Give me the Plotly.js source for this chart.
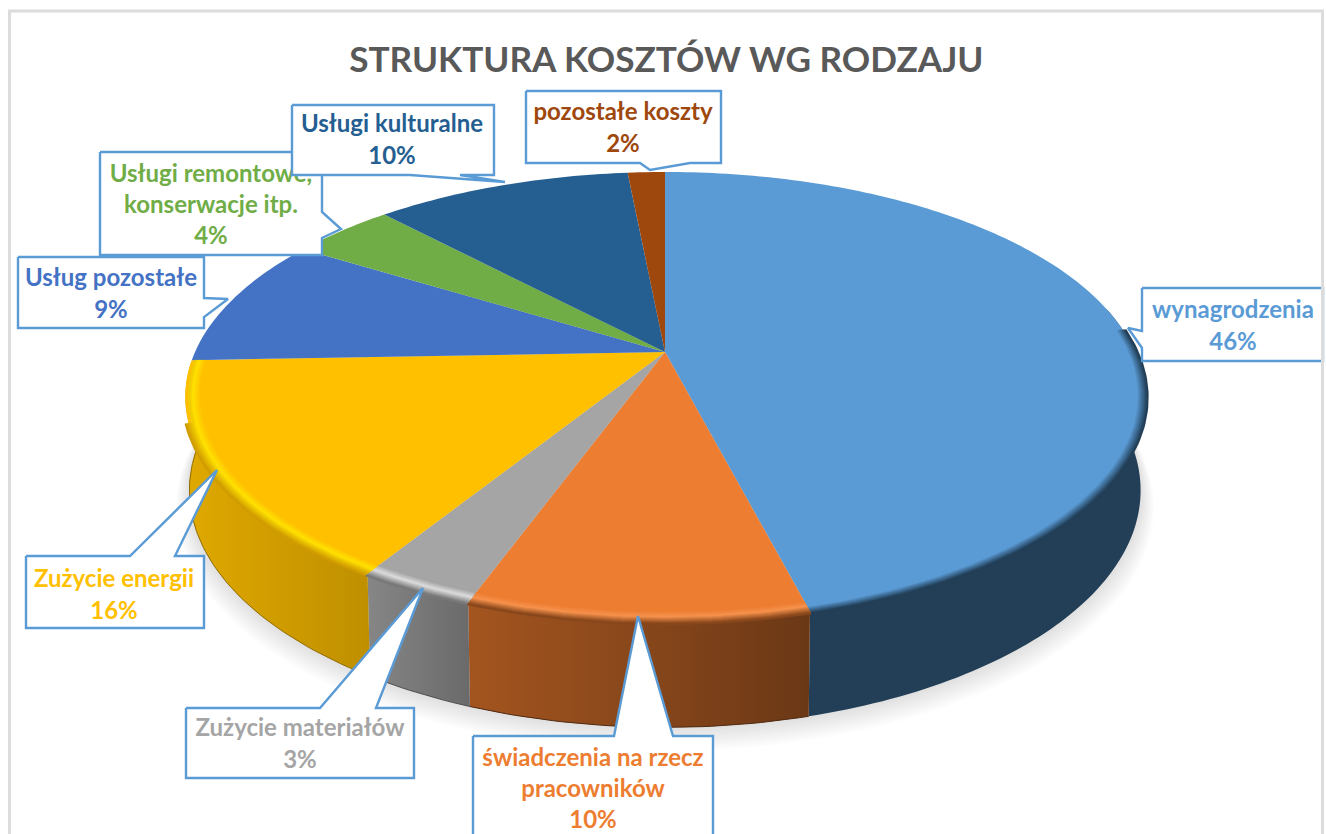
<!DOCTYPE html>
<html>
<head>
<meta charset="utf-8">
<script src="https://cdn.plot.ly/plotly-3.0.1.min.js"></script>
<style>html,body{margin:0;padding:0;background:#fff}</style>
</head>
<body>
<div id="chart" style="width:1326px;height:834px"></div>
<script>
// ---- data ----
const chartTitle = 'STRUKTURA KOSZTÓW WG RODZAJU';
const categories = ['wynagrodzenia', 'świadczenia na rzecz<br>pracowników', 'Zużycie materiałów',
  'Zużycie energii', 'Usług pozostałe', 'Usługi remontowe,<br>konserwacje itp.', 'Usługi kulturalne', 'pozostałe koszty'];
const shares = [46.0, 9.52, 3.28, 15.6, 9.4, 4.2, 10.48, 1.52];
const topColors = ['#5b9bd5', '#ed7d31', '#a5a5a5', '#ffc000', '#4472c4', '#70ad47', '#255e91', '#9e480e'];
const labelColors = ['#5b9bd5', '#ed7d31', '#a5a5a5', '#ffc000', '#4472c4', '#70ad47', '#255e91', '#9e480e'];

// ---- styling of the 3-D look (only slices with a visible wall) ----
const wallLeft  = {0:'#223f57', 1:'#a4551f', 2:'#868686', 3:'#e0a900'};
const wallRight = {0:'#223f57', 1:'#6b3816', 2:'#6a6a6a', 3:'#bf8f00'};
const rimHigh   = {0:'#5b9bd5', 1:'#f6924d', 2:'#dcdcdc', 3:'#ffe100'};
const wallStart = {0:78};   // wall of the first slice is hidden behind the top before this angle
const rimStart  = {0:84};
const darkRimEnd = {3:252}; // the yellow slice keeps a bright edge where it has no wall below it

// ---- projection: a tilted disc seen in perspective, in picture pixels ----
const tilt = 0.2, cx = 665;
const topDisc = {y0:352, ax:470, ay:216};
const baseDisc = {y0:443, ax:466, ay:227.5};
function project(deg, r, d, extra) {
  const t = deg * Math.PI / 180, u = r * Math.sin(t), v = r * Math.cos(t), w = 1 + tilt * v;
  const e = extra || {dx:0, dy:0, shift:0};
  return [cx + (d.ax + e.dx) * u / w, d.y0 + e.shift - (d.ay + e.dy) * v / w];
}
function arc(a, b, r, d, extra) {
  const n = Math.max(2, Math.ceil(Math.abs(b - a))), xs = [], ys = [];
  for (let i = 0; i <= n; i++) {
    const p = project(a + (b - a) * i / n, r, d, extra);
    xs.push(p[0]); ys.push(p[1]);
  }
  return [xs, ys];
}
function mix(c1, c2, f) {
  const h = c => [1, 3, 5].map(i => parseInt(c.substr(i, 2), 16));
  const a = h(c1), b = h(c2);
  return '#' + a.map((x, i) => Math.round(x + (b[i] - x) * f).toString(16).padStart(2, '0')).join('');
}

const total = shares.reduce((s, x) => s + x, 0);
const edges = [0];
shares.forEach(s => edges.push(edges[edges.length - 1] + s / total * 360));

const traces = [];
const base = {hoverinfo:'skip', showlegend:false, cliponaxis:false};

// soft shadow under the base
for (let i = 10; i >= 1; i--) {
  const [x, y] = arc(0, 360, 1, baseDisc, {dx:i * 1.3, dy:i * 0.6, shift:i * 1.6});
  traces.push({...base, type:'scatter', mode:'none', x, y, fill:'toself', fillcolor:'rgba(0,0,0,0.013)'});
}

// side walls
Object.keys(wallLeft).map(Number).forEach(i => {
  const a = wallStart[i] !== undefined ? wallStart[i] : edges[i], b = edges[i + 1];
  const [tx, ty] = arc(a, b, 1, topDisc);
  const [bx, by] = arc(b, a, 1, baseDisc);
  const x = tx.concat(bx), y = ty.concat(by);
  traces.push({...base, type:'scatter', mode:'none', x, y, fill:'toself',
    fillgradient:{type:'horizontal', colorscale:[[0, wallLeft[i]], [1, wallRight[i]]]}});
  // darker lower edge
  if (i > 0) traces.push({...base, type:'scatter', mode:'lines', x:bx, y:by,
    line:{color:mix(wallRight[i], '#000000', 0.25), width:1}});
});

// top surface slices
shares.forEach((s, i) => {
  const [ax, ay] = arc(edges[i], edges[i + 1], 1, topDisc);
  const x = [cx].concat(ax), y = [topDisc.y0].concat(ay);
  traces.push({...base, type:'scatter', mode:'none', x, y, fill:'toself', fillcolor:topColors[i]});
});

// bevel along the front rim, drawn as close-set lines from the surface colour to the wall colour
Object.keys(rimHigh).map(Number).forEach(i => {
  const a = rimStart[i] !== undefined ? rimStart[i] : edges[i], b = edges[i + 1];
  const wall = mix(wallLeft[i], wallRight[i], 0.5);
  for (let r = 0.970; r <= 1.0061; r += 0.002) {
    let c;
    if (r < 0.986) c = mix(topColors[i], rimHigh[i], (r - 0.970) / 0.016);
    else c = mix(rimHigh[i], wall, Math.min(1, (r - 0.986) / 0.02));
    const end = (r > 0.992 && darkRimEnd[i] !== undefined) ? darkRimEnd[i] : b;
    const [x, y] = arc(a, end, r, topDisc);
    traces.push({...base, type:'scatter', mode:'lines', x, y, line:{color:c, width:2}});
  }
});

// callout outlines, in picture pixels; order gives the overlap of the original
const calloutOrder = [7, 5, 6, 4, 3, 2, 1, 0];
const calloutShapes = {
  0:[[1142,288],[1323,288],[1323,361],[1142,361],[1142,348],[1128,328],[1142,331]],
  1:[[473,736],[614,736],[638,616],[673,736],[713,736],[713,850],[473,850]],
  2:[[186,708],[320,708],[423,588],[376,708],[414,708],[414,778],[186,778]],
  3:[[26,556],[130,556],[217,470],[175,556],[204,556],[204,628],[26,628]],
  4:[[18,257],[204,257],[204,298],[228,299],[204,317],[204,328],[18,328]],
  5:[[100,152],[322,152],[322,212],[341,229],[322,238],[322,255],[100,255]],
  6:[[292,105],[494,105],[494,175],[460,175],[505,182],[410,175],[292,175]],
  7:[[526,91],[721,91],[721,163],[690,163],[650,170],[640,163],[526,163]]
};
const labelSpots = {0:[1233,328], 1:[593,791], 2:[300,746], 3:[114,597], 4:[111,296], 5:[211,207], 6:[392,142], 7:[623,130]};

calloutOrder.forEach(i => {
  const pts = calloutShapes[i].concat([calloutShapes[i][0]]);
  traces.push({...base, type:'scatter', mode:'lines', x:pts.map(p => p[0]), y:pts.map(p => p[1]),
    fill:'toself', fillcolor:'#ffffff', line:{color:'#5b9bd5', width:2.4}});
  const pct = Math.round(shares[i] / total * 100);
  traces.push({...base, type:'scatter', mode:'text', x:[labelSpots[i][0]], y:[labelSpots[i][1]],
    text:[categories[i] + '<br>' + pct + '%'], textposition:'middle center',
    textfont:{family:'Lato, "Open Sans", sans-serif', size:24, weight:700, color:labelColors[i]}});
});

const layout = {
  width:1326, height:834, autosize:false,
  margin:{l:0, r:0, t:0, b:0, pad:0},
  paper_bgcolor:'#ffffff', plot_bgcolor:'#ffffff',
  showlegend:false, hovermode:false,
  title:{text:chartTitle, x:0.5025, xanchor:'center', y:0.9285, yanchor:'middle',
    font:{family:'Lato, "Open Sans", sans-serif', size:35.2, weight:700, color:'#595959'}},
  xaxis:{range:[0, 1326], visible:false, fixedrange:true},
  yaxis:{range:[834, 0], visible:false, fixedrange:true},
  shapes:[{type:'rect', xref:'x', yref:'y', x0:9.5, x1:1322.5, y0:11, y1:860,
    line:{color:'#dcdcdc', width:3}, fillcolor:'rgba(0,0,0,0)', layer:'above'}]
};
Plotly.newPlot('chart', traces, layout, {displayModeBar:false, staticPlot:true});
</script>
</body>
</html>
